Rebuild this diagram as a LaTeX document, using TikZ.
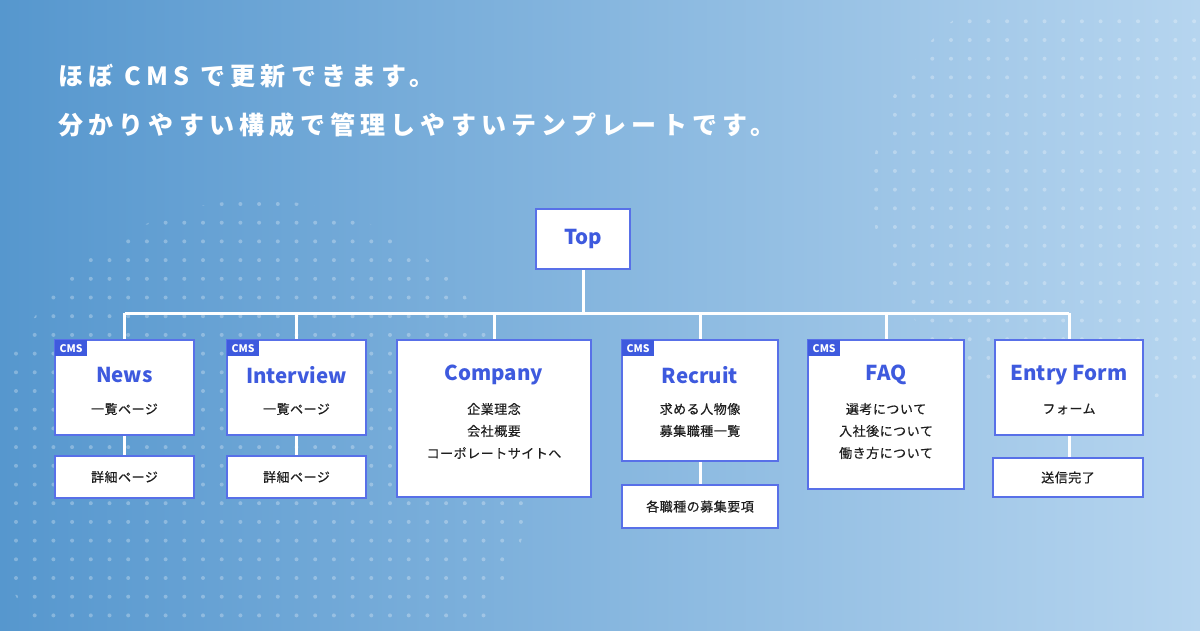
\documentclass[tikz,border=0pt]{standalone}
\usepackage{fontspec}
\setmainfont{Noto Sans CJK JP}
\newfontfamily\titlefont[LetterSpace=21]{Noto Sans CJK JP}
\newfontfamily\bodyfont[LetterSpace=4,FakeBold=0.4]{Noto Sans CJK JP}
\definecolor{bgL}{RGB}{86,151,206}
\definecolor{bgR}{RGB}{182,213,239}
\definecolor{accent}{RGB}{62,90,222}
\definecolor{bord}{RGB}{88,112,232}
\definecolor{ink}{RGB}{30,30,30}
\pgfdeclarelayer{back}
\pgfsetlayers{back,main}
\tikzset{
  box/.style={draw=bord, line width=1.3pt, fill=white, inner sep=0pt, outer sep=0pt, anchor=north west},
  head/.style={text=accent, font=\bfseries\fontsize{20.5}{24}\selectfont, inner sep=0pt},
  body/.style={text=ink, font=\bodyfont\fontsize{13}{16}\selectfont, inner sep=0pt},
  tag/.style={fill=accent, text=white, font=\bfseries\fontsize{10.5}{12}\selectfont, inner sep=0pt, minimum width=32pt, minimum height=16pt, anchor=north west},
  conn/.style={draw=white, line width=3pt},
  dot/.style={fill=white, fill opacity=0.28},
  ttl/.style={text=white, font=\titlefont\bfseries\fontsize{25}{30}\selectfont, inner sep=0pt, anchor=west}
}
\begin{document}
\begin{tikzpicture}[x=1pt,y=-1pt]
\useasboundingbox (0,0) rectangle (1200,630);
% boxes
\node[box, minimum width=94pt, minimum height=60pt] (top) at (536,209) {};
\node[box, minimum width=139pt, minimum height=95pt] (news) at (55,340) {};
\node[box, minimum width=139pt, minimum height=42pt] (newsD) at (55,456) {};
\node[box, minimum width=139pt, minimum height=95pt] (inter) at (227,340) {};
\node[box, minimum width=139pt, minimum height=42pt] (interD) at (227,456) {};
\node[box, minimum width=194pt, minimum height=157pt] (comp) at (397,340) {};
\node[box, minimum width=156pt, minimum height=121pt] (recr) at (622,340) {};
\node[box, minimum width=156pt, minimum height=43pt] (recrD) at (622,485) {};
\node[box, minimum width=156pt, minimum height=149pt] (faq) at (808,340) {};
\node[box, minimum width=148pt, minimum height=95pt] (entry) at (995,340) {};
\node[box, minimum width=150pt, minimum height=39pt] (entryD) at (993,458) {};
% tags
\node[tag] (tagN) at (news.north west) {CMS};
\node[tag] (tagI) at (inter.north west) {CMS};
\node[tag] (tagR) at (recr.north west) {CMS};
\node[tag] (tagF) at (faq.north west) {CMS};
% headings
\node[head] (topT) at (583,239) {Top};
\node[head] (newsT) at (news.center |- 0,375) {News};
\node[head] (interT) at (inter.center |- 0,375) {Interview};
\node[head] (compT) at (comp.center |- 0,375) {Company};
\node[head] (recrT) at (recr.center |- 0,375) {Recruit};
\node[head] (faqT) at (faq.center |- 0,375) {FAQ};
\node[head] (entryT) at (entry.center |- 0,375) {Entry Form};
% body lines
\node[body] (n1) at (news.center |- 0,409) {一覧ページ};
\node[body] (n2) at (newsD.center) {詳細ページ};
\node[body] (i1) at (inter.center |- 0,409) {一覧ページ};
\node[body] (i2) at (interD.center) {詳細ページ};
\node[body] (c1) at (comp.center |- 0,409) {企業理念};
\node[body] (c2) at (comp.center |- 0,431) {会社概要};
\node[body] (c3) at (comp.center |- 0,453) {コーポレートサイトへ};
\node[body] (r1) at (recr.center |- 0,409) {求める人物像};
\node[body] (r2) at (recr.center |- 0,431) {募集職種一覧};
\node[body] (r3) at (recrD.center) {各職種の募集要項};
\node[body] (f1) at (faq.center |- 0,409) {選考について};
\node[body] (f2) at (faq.center |- 0,431) {入社後について};
\node[body] (f3) at (faq.center |- 0,453) {働き方について};
\node[body] (e1) at (entry.center |- 0,409) {フォーム};
\node[body] (e2) at (entryD.center) {送信完了};
% title
\node[ttl] (title1) at (58,76) {ほぼ CMS で更新できます。};
\node[ttl] (title2) at (58,125) {分かりやすい構成で管理しやすいテンプレートです。};
\coordinate (busL) at (news.north |- 0,313);
\coordinate (busR) at (entry.north |- 0,313);
\begin{pgfonlayer}{back}
\shade[left color=bgL, right color=bgR] (0,0) rectangle (1200,630);
\begin{scope}
\clip (258,472) circle (272);
\foreach \i in {0,...,30} \foreach \j in {0,...,22}
  \fill[dot] ({16+18.7*\i},{204+18.7*\j}) circle (2);
\end{scope}
\begin{scope}
\clip (1090,190) circle (218);
\foreach \i in {45,...,63} \foreach \j in {0,...,21}
  \fill[dot] ({16+18.7*\i},{21.3+18.7*\j}) circle (2);
\end{scope}
\draw[conn] (top.south) -- (top.south |- busL);
\draw[conn] (busL) -- (busR);
\draw[conn] (busL) -- (news.north);
\draw[conn] (inter.north |- busL) -- (inter.north);
\draw[conn] (comp.north |- busL) -- (comp.north);
\draw[conn] (recr.north |- busL) -- (recr.north);
\draw[conn] (faq.north |- busL) -- (faq.north);
\draw[conn] (busR) -- (entry.north);
\draw[conn] (news.south) -- (newsD.north);
\draw[conn] (inter.south) -- (interD.north);
\draw[conn] (recr.south) -- (recrD.north);
\draw[conn] (entry.south) -- (entry.south |- entryD.north);
\end{pgfonlayer}
\end{tikzpicture}
\end{document}
